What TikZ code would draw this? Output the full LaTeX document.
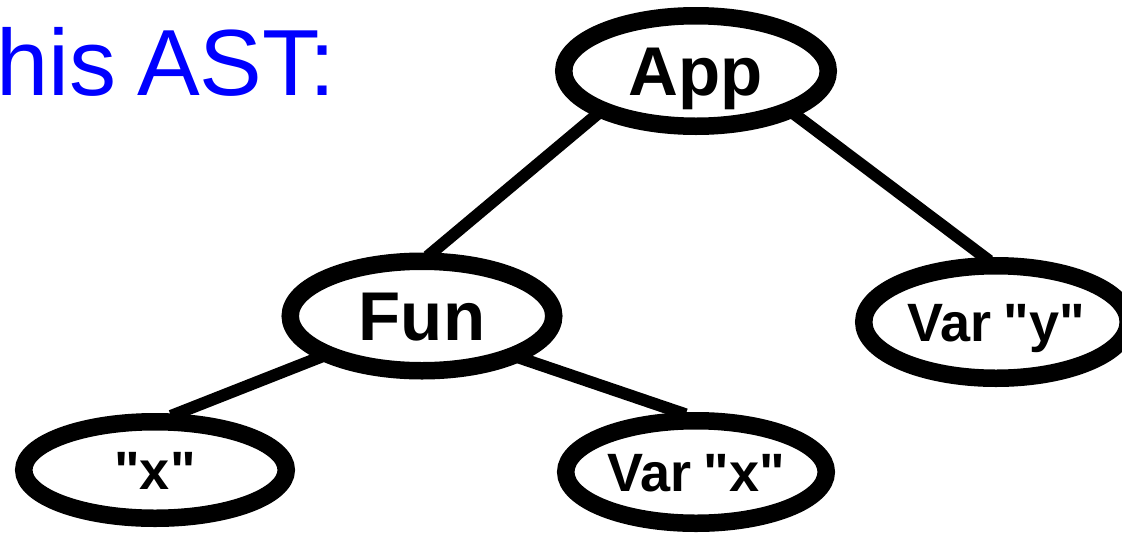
\documentclass[tikz,border=0pt]{standalone}
\usepackage{fontspec}
\setmainfont{Liberation Sans}[Ligatures=TeXOff]
\newfontfamily\nodefont[Ligatures=TeXOff]{Liberation Sans}
\newfontfamily\titlefont[WordSpace=0.8]{Liberation Sans}
\usetikzlibrary{shapes.geometric,backgrounds}
\definecolor{titleblue}{RGB}{0,0,255}
\begin{document}
\begin{tikzpicture}[x=1pt,y=-1pt,
  astnode/.style={ellipse, draw=black, line width=17.5pt, fill=white, inner sep=0pt, text depth=0pt},
  bignode/.style={astnode, font=\nodefont\bfseries\fontsize{69}{69}\selectfont, text height=49pt},
  smallnode/.style={astnode, font=\nodefont\bfseries\fontsize{54}{54}\selectfont, text height=39pt},
  treeline/.style={line width=12pt, shorten <=-6pt, shorten >=-6pt}
]
\useasboundingbox (0,0) rectangle (1122,536);
\clip (0,0) rectangle (1122,536);
\node[anchor=base west, inner sep=0pt, text=titleblue, font=\titlefont\fontsize{94}{94}\selectfont] (title) at (-4,95) {his AST:};
\node[bignode, minimum width=264.5pt, minimum height=110.5pt] (app) at (696,71) {App};
\node[bignode, minimum width=263.5pt, minimum height=109.5pt] (fun) at (422,316) {Fun};
\node[smallnode, minimum width=264.5pt, minimum height=112.5pt] (vary) at (996,322) {Var "y"};
\node[smallnode, minimum width=262.5pt, minimum height=96.5pt] (strx) at (155,470) {"x"};
\node[smallnode, minimum width=260.5pt, minimum height=102.5pt] (varx) at (696,472) {Var "x"};
\begin{pgfonlayer}{background}
\draw[treeline] (app.204) -- (fun.81);
\draw[treeline] (app.336) -- (vary.100);
\draw[treeline] (fun.202) -- (strx.69);
\draw[treeline] (fun.337) -- (varx.105);
\end{pgfonlayer}
\end{tikzpicture}
\end{document}
